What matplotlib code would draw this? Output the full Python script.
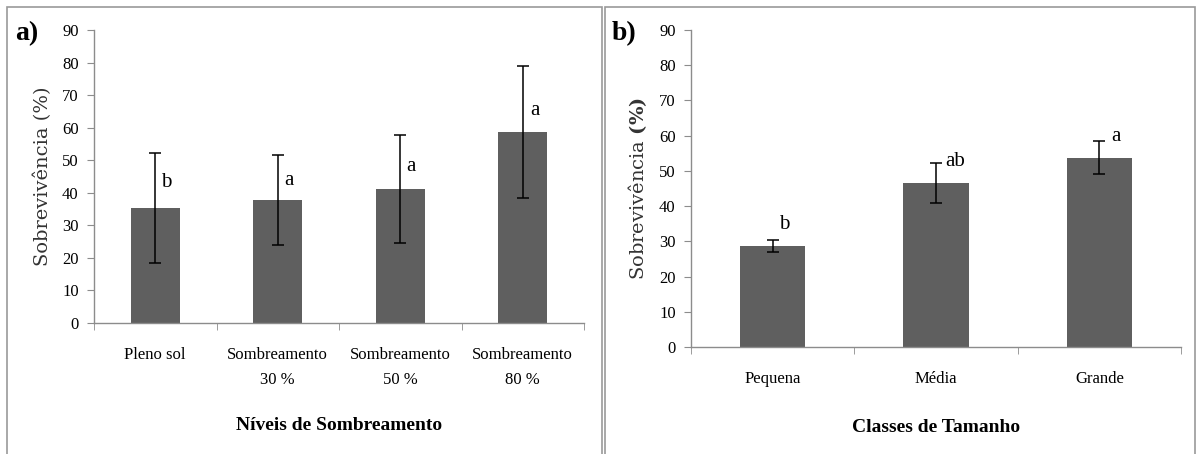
import numpy as np
from matplotlib import pyplot as plt
from matplotlib.patches import Rectangle

# Panel a: shading levels
shadeLabels = ["Pleno sol", "Sombreamento\n30 %", "Sombreamento\n50 %", "Sombreamento\n80 %"]
shadeMean = [35.4, 37.8, 41.2, 58.6]
shadeErr = [16.9, 13.8, 16.7, 20.3]
shadeLetters = ["b", "a", "a", "a"]
shadeLetterY = [43.3, 43.9, 48.0, 65.4]

# Panel b: size classes
sizeLabels = ["Pequena", "Média", "Grande"]
sizeMean = [28.7, 46.6, 53.8]
sizeErr = [1.6, 5.6, 4.8]
sizeLetters = ["b", "ab", "a"]
sizeLetterY = [34.8, 52.6, 59.8]

BAR = "#5f5f5f"
AXC = "#8c8c8c"
SERIF = "Liberation Serif"
plt.rcParams["mathtext.fontset"] = "dejavuserif"


def drawPanel(ax, labels, means, errs, letters, letterY, letterDx, xtitle, ylab,
              tickPad, titlePad):
    """Bar chart with error bars and significance letters."""
    x = np.arange(len(labels))
    ax.bar(x, means, width=0.4, color=BAR, zorder=2)
    ax.errorbar(x, means, yerr=errs, fmt="none", ecolor="black",
                elinewidth=1.1, capsize=4, capthick=1.1, zorder=3)
    for xi, let, ly, dx in zip(x, letters, letterY, letterDx):
        ax.text(xi + dx, ly, let, ha="center", va="center",
                fontsize=15, family=SERIF)

    ax.set_xlim(-0.5, len(labels) - 0.5)
    ax.set_ylim(0, 90)
    ax.set_yticks(range(0, 91, 10))
    ax.set_yticklabels([str(v) for v in range(0, 91, 10)], family=SERIF, fontsize=12)
    ax.set_xticks(x)
    ax.set_xticklabels(labels, family=SERIF, fontsize=12, linespacing=1.75)
    ax.set_xticks(np.arange(len(labels) + 1) - 0.5, minor=True)
    ax.tick_params(axis="x", which="major", length=0, pad=tickPad)
    ax.tick_params(axis="x", which="minor", length=5, color=AXC, direction="out")
    ax.tick_params(axis="y", length=5, color=AXC, direction="out", pad=6)

    for s in ["top", "right"]:
        ax.spines[s].set_visible(False)
    for s in ["left", "bottom"]:
        ax.spines[s].set_color(AXC)
        ax.spines[s].set_linewidth(1.0)

    ax.set_xlabel(xtitle, family=SERIF, fontsize=14, fontweight="bold", labelpad=titlePad)
    ax.set_ylabel(ylab, fontsize=14, family="DejaVu Serif", color="#333333", labelpad=7)


fig = plt.figure(figsize=(11.97, 4.54), dpi=100)

# panel frames
fig.patches.append(Rectangle((7 / 1197, -0.01), 595 / 1197, 1 - 7 / 454 + 0.01,
                             transform=fig.transFigure, fill=False,
                             edgecolor="#9a9a9a", linewidth=1.2))
fig.patches.append(Rectangle((605 / 1197, -0.01), 590 / 1197, 1 - 7 / 454 + 0.01,
                             transform=fig.transFigure, fill=False,
                             edgecolor="#9a9a9a", linewidth=1.2))

axA = fig.add_axes([94 / 1197, 1 - 323 / 454, 490 / 1197, 293 / 454])
drawPanel(axA, shadeLabels, shadeMean, shadeErr, shadeLetters, shadeLetterY,
          [0.09, 0.09, 0.09, 0.1], "Níveis de Sombreamento", "Sobrevivência (%)",
          tickPad=17, titlePad=21)

axB = fig.add_axes([691 / 1197, 1 - 347 / 454, 490 / 1197, 317 / 454])
drawPanel(axB, sizeLabels, sizeMean, sizeErr, sizeLetters, sizeLetterY,
          [0.07, 0.12, 0.1], "Classes de Tamanho", r"Sobrevivência $\mathbf{(\%)}$",
          tickPad=17, titlePad=23)

fig.text(15 / 1197, 1 - 34 / 454, "a)", family=SERIF, fontsize=20,
         fontweight="bold", va="center")
fig.text(612 / 1197, 1 - 34 / 454, "b)", family=SERIF, fontsize=20,
         fontweight="bold", va="center")

fig.savefig("out.png", dpi=100)
plt.close()
